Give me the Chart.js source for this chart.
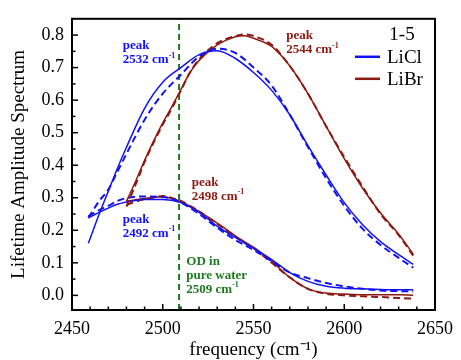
<!DOCTYPE html>
<html>
<head>
<meta charset="utf-8">
<script src="https://cdn.jsdelivr.net/npm/chart.js@4.4.1/dist/chart.umd.min.js"></script>
<style>
  html, body { margin: 0; padding: 0; background: #fff; }
</style>
</head>
<body>
<canvas id="myChart" width="461" height="360"></canvas>
<script>
// frequency grids (cm-1)
const freqLiCl = [2459, 2465, 2470, 2475, 2480, 2490, 2500, 2510, 2520, 2530, 2540, 2550, 2560, 2570, 2580, 2590, 2600, 2610, 2620, 2630, 2638];
const freqLiBr = [2480, 2485, 2490, 2495, 2500, 2505, 2510, 2515, 2520, 2530, 2540, 2545, 2550, 2560, 2570, 2580, 2590, 2600, 2610, 2620, 2630, 2638];

// upper component (solid = fit, dashed = data)
const liclHighSolid  = [0.16, 0.25, 0.32, 0.39, 0.455, 0.575, 0.655, 0.70, 0.74, 0.752, 0.728, 0.685, 0.63, 0.555, 0.46, 0.37, 0.285, 0.218, 0.165, 0.125, 0.095];
const liclHighDashed = [0.238, 0.29, 0.325, 0.38, 0.435, 0.54, 0.62, 0.678, 0.734, 0.758, 0.745, 0.70, 0.645, 0.555, 0.456, 0.36, 0.275, 0.205, 0.155, 0.115, 0.085];
const librHighSolid  = [0.289, 0.35, 0.415, 0.475, 0.53, 0.58, 0.632, 0.685, 0.722, 0.77, 0.795, 0.798, 0.79, 0.765, 0.705, 0.62, 0.52, 0.42, 0.33, 0.253, 0.188, 0.127];
const librHighDashed = [0.273, 0.34, 0.41, 0.47, 0.525, 0.575, 0.63, 0.685, 0.725, 0.775, 0.797, 0.802, 0.797, 0.77, 0.705, 0.62, 0.52, 0.425, 0.335, 0.25, 0.185, 0.122];

// lower component
const liclLowSolid  = [0.238, 0.255, 0.268, 0.28, 0.287, 0.295, 0.295, 0.285, 0.255, 0.213, 0.178, 0.145, 0.11, 0.07, 0.043, 0.028, 0.022, 0.02, 0.018, 0.017, 0.017];
const liclLowDashed = [0.243, 0.262, 0.275, 0.29, 0.299, 0.304, 0.302, 0.285, 0.25, 0.208, 0.17, 0.14, 0.105, 0.07, 0.053, 0.038, 0.028, 0.02, 0.015, 0.013, 0.012];
const librLowSolid  = [0.289, 0.294, 0.298, 0.301, 0.303, 0.298, 0.288, 0.274, 0.258, 0.222, 0.183, 0.165, 0.148, 0.105, 0.055, 0.02, 0.007, 0.004, 0.002, 0.002, 0.002, 0.0];
const librLowDashed = [0.278, 0.288, 0.296, 0.301, 0.305, 0.299, 0.29, 0.275, 0.258, 0.22, 0.18, 0.162, 0.145, 0.10, 0.055, 0.02, 0.005, 0.0, -0.003, -0.005, -0.008, -0.01];

const odFreq = 2509;
const xTicks = [2450, 2500, 2550, 2600, 2650];
const yTicks = [0.0, 0.1, 0.2, 0.3, 0.4, 0.5, 0.6, 0.7, 0.8];

const BLUE = '#1212f5';
const BROWN = '#8c1a12';
const GREEN = '#1d7a1d';
const SERIF = '"Liberation Serif", "Times New Roman", serif';

function pts(xs, ys) {
    return xs.map((x, i) => ({ x: x, y: ys[i] }));
}

function series(xs, ys, color, dashed) {
    return {
        data: pts(xs, ys),
        borderColor: color,
        borderWidth: dashed ? 2 : 1.5,
        borderDash: dashed ? [7, 4] : [],
        pointRadius: 0,
        fill: false,
        tension: 0.4,
        cubicInterpolationMode: 'monotone'
    };
}

// text notes: [lines, freq, value, color]
const notes = [
    { lines: ['peak', '2532 cm|-1'], x: 2478, y: 0.766, color: BLUE },
    { lines: ['peak', '2544 cm|-1'], x: 2568, y: 0.797, color: BROWN },
    { lines: ['peak', '2498 cm|-1'], x: 2516, y: 0.346, color: BROWN },
    { lines: ['peak', '2492 cm|-1'], x: 2478, y: 0.234, color: BLUE },
    { lines: ['OD in', 'pure water', '2509 cm|-1'], x: 2513, y: 0.103, color: GREEN }
];

function drawSup(ctx, str, x, y, size) {
    const parts = str.split('|');
    ctx.font = 'bold ' + size + 'px ' + SERIF;
    ctx.fillText(parts[0], x, y);
    if (parts[1]) {
        const w = ctx.measureText(parts[0]).width;
        ctx.font = 'bold ' + Math.round(size * 0.62) + 'px ' + SERIF;
        ctx.fillText(parts[1], x + w, y - size * 0.35);
    }
}

const decorPlugin = {
    id: 'decor',
    afterDraw(chart) {
        const ctx = chart.ctx;
        const a = chart.chartArea;
        const xs = chart.scales.x, ys = chart.scales.y;
        ctx.save();

        // inward ticks on bottom and left
        ctx.strokeStyle = '#000';
        ctx.lineWidth = 1.5;
        for (let f = 2460; f < 2650; f += 10) {
            const px = xs.getPixelForValue(f);
            const len = (f % 50 === 0) ? 6 : 3.5;
            ctx.beginPath(); ctx.moveTo(px, a.bottom); ctx.lineTo(px, a.bottom - len); ctx.stroke();
        }
        for (let k = 0; k <= 16; k++) {
            const v = k * 0.05;
            const py = ys.getPixelForValue(v);
            const len = (k % 2 === 0) ? 6 : 3.5;
            ctx.beginPath(); ctx.moveTo(a.left, py); ctx.lineTo(a.left + len, py); ctx.stroke();
        }

        // frame
        ctx.lineWidth = 2;
        ctx.strokeRect(a.left, a.top, a.right - a.left, a.bottom - a.top);

        // notes
        ctx.textBaseline = 'middle';
        ctx.textAlign = 'left';
        notes.forEach(n => {
            const px = xs.getPixelForValue(n.x);
            let py = ys.getPixelForValue(n.y);
            ctx.fillStyle = n.color;
            n.lines.forEach(line => {
                drawSup(ctx, line, px, py, 13);
                py += 14;
            });
        });

        // legend
        ctx.font = '19px ' + SERIF;
        ctx.fillStyle = '#000';
        ctx.textAlign = 'center';
        ctx.fillText('1-5', a.right - 33, a.top + 16);
        ctx.textAlign = 'left';
        [['LiCl', BLUE, 38], ['LiBr', BROWN, 60]].forEach(([label, color, dy]) => {
            ctx.strokeStyle = color;
            ctx.lineWidth = 2.5;
            ctx.beginPath();
            ctx.moveTo(a.right - 80, a.top + dy);
            ctx.lineTo(a.right - 55, a.top + dy);
            ctx.stroke();
            ctx.fillStyle = '#000';
            ctx.fillText(label, a.right - 48, a.top + dy + 1);
        });
        ctx.restore();
    }
};

const ctx = document.getElementById('myChart').getContext('2d');
window.myChart = new Chart(ctx, {
    type: 'line',
    data: {
        datasets: [
            series(freqLiCl, liclHighSolid, BLUE, false),
            series(freqLiCl, liclHighDashed, BLUE, true),
            series(freqLiBr, librHighSolid, BROWN, false),
            series(freqLiBr, librHighDashed, BROWN, true),
            series(freqLiCl, liclLowSolid, BLUE, false),
            series(freqLiCl, liclLowDashed, BLUE, true),
            series(freqLiBr, librLowSolid, BROWN, false),
            series(freqLiBr, librLowDashed, BROWN, true),
            {
                data: [{ x: odFreq, y: -0.045 }, { x: odFreq, y: 0.85 }],
                borderColor: GREEN,
                borderWidth: 2,
                borderDash: [6, 4],
                pointRadius: 0,
                fill: false
            }
        ]
    },
    options: {
        responsive: false,
        animation: false,
        layout: { padding: { left: 0, top: 16, right: 23, bottom: 0 } },
        plugins: { legend: { display: false }, tooltip: { enabled: false } },
        scales: {
            x: {
                type: 'linear',
                min: 2450,
                max: 2650,
                afterBuildTicks: s => { s.ticks = xTicks.map(v => ({ value: v })); },
                afterFit: s => { s.height = 50; },
                grid: { display: false, drawTicks: false },
                border: { display: false },
                ticks: {
                    padding: 8,
                    color: '#000',
                    maxRotation: 0,
                    autoSkip: false,
                    font: { family: SERIF, size: 18 },
                    callback: v => String(v)
                },
                title: {
                    display: true,
                    text: 'frequency (cm⁻¹)',
                    color: '#000',
                    font: { family: SERIF, size: 19, lineHeight: 1 },
                    padding: { top: 0, bottom: 0 }
                }
            },
            y: {
                type: 'linear',
                min: -0.045,
                max: 0.85,
                afterBuildTicks: s => { s.ticks = yTicks.map(v => ({ value: v })); },
                afterFit: s => { s.width = 72; },
                grid: { display: false, drawTicks: false },
                border: { display: false },
                ticks: {
                    padding: 8,
                    color: '#000',
                    autoSkip: false,
                    font: { family: SERIF, size: 18 },
                    callback: v => v.toFixed(1)
                },
                title: {
                    display: true,
                    text: 'Lifetime Amplitude Spectrum',
                    color: '#000',
                    font: { family: SERIF, size: 19, lineHeight: 1 },
                    padding: { top: 9.5, bottom: 0 }
                }
            }
        }
    },
    plugins: [decorPlugin]
});
</script>
</body>
</html>
